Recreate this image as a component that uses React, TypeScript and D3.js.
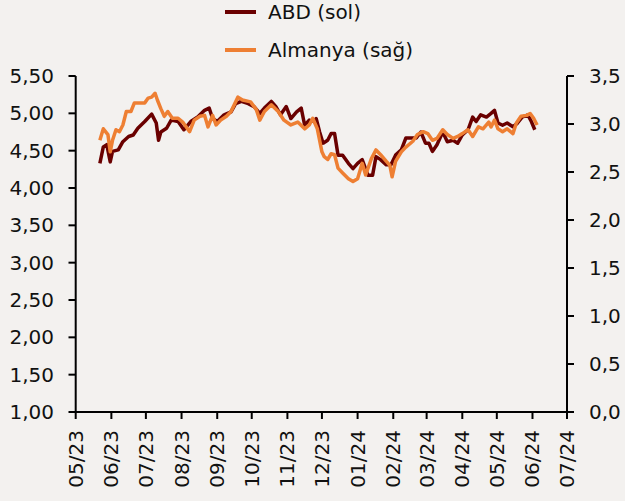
import React from "react";
import * as d3 from "d3";

// ABD 2Y (left axis)
const usDates = [
  "2023-05-22", "2023-05-25", "2023-05-28", "2023-05-31", "2023-06-02", "2023-06-07", "2023-06-11",
  "2023-06-16", "2023-06-20", "2023-06-24", "2023-06-30", "2023-07-06", "2023-07-10", "2023-07-12",
  "2023-07-14", "2023-07-19", "2023-07-23", "2023-07-29", "2023-08-03", "2023-08-09", "2023-08-15",
  "2023-08-21", "2023-08-25", "2023-08-28", "2023-09-01", "2023-09-07", "2023-09-13", "2023-09-17",
  "2023-09-22", "2023-09-28", "2023-10-03", "2023-10-08", "2023-10-12", "2023-10-18", "2023-10-22",
  "2023-10-26", "2023-10-31", "2023-11-04", "2023-11-09", "2023-11-13", "2023-11-16", "2023-11-20",
  "2023-11-24", "2023-11-26", "2023-11-29", "2023-12-02", "2023-12-06", "2023-12-09", "2023-12-12",
  "2023-12-15", "2023-12-19", "2023-12-24", "2023-12-28", "2024-01-01", "2024-01-05", "2024-01-10",
  "2024-01-14", "2024-01-17", "2024-01-21", "2024-01-26", "2024-01-30", "2024-02-03", "2024-02-08",
  "2024-02-12", "2024-02-16", "2024-02-21", "2024-02-25", "2024-02-29", "2024-03-03", "2024-03-06",
  "2024-03-10", "2024-03-15", "2024-03-19", "2024-03-24", "2024-03-28", "2024-04-01", "2024-04-06",
  "2024-04-10", "2024-04-13", "2024-04-17", "2024-04-22", "2024-04-26", "2024-04-29", "2024-05-02",
  "2024-05-06", "2024-05-10", "2024-05-15", "2024-05-19", "2024-05-23", "2024-05-28", "2024-05-31",
  "2024-06-03",
];
const usYields = [
  4.33, 4.55, 4.58, 4.35, 4.49, 4.51, 4.62, 4.69, 4.71, 4.8, 4.89, 4.99, 4.87, 4.64, 4.75, 4.8,
  4.91, 4.89, 4.78, 4.89, 4.95, 5.04, 5.07, 4.93, 4.89, 4.98, 5.02, 5.13, 5.16, 5.13, 5.09, 5.0,
  5.07, 5.16, 5.09, 4.98, 5.09, 4.93, 5.02, 5.07, 4.84, 4.91, 4.89, 4.93, 4.75, 4.6, 4.64, 4.73,
  4.73, 4.44, 4.44, 4.33, 4.26, 4.33, 4.38, 4.17, 4.17, 4.42, 4.38, 4.31, 4.31, 4.44, 4.51, 4.67,
  4.67, 4.67, 4.75, 4.6, 4.6, 4.49, 4.58, 4.75, 4.62, 4.64, 4.6, 4.71, 4.78, 4.95, 4.89, 4.98,
  4.95, 5.0, 5.04, 4.87, 4.84, 4.87, 4.82, 4.87, 4.95, 4.98, 4.89, 4.78,
];

// Almanya 2Y (right axis)
const deDates = [
  "2023-05-22", "2023-05-25", "2023-05-29", "2023-05-31", "2023-06-02", "2023-06-05", "2023-06-08",
  "2023-06-11", "2023-06-14", "2023-06-18", "2023-06-21", "2023-06-25", "2023-06-30", "2023-07-03",
  "2023-07-06", "2023-07-09", "2023-07-11", "2023-07-14", "2023-07-17", "2023-07-20", "2023-07-24",
  "2023-07-29", "2023-08-02", "2023-08-08", "2023-08-12", "2023-08-17", "2023-08-21", "2023-08-24",
  "2023-08-28", "2023-08-31", "2023-09-04", "2023-09-09", "2023-09-13", "2023-09-19", "2023-09-23",
  "2023-09-30", "2023-10-05", "2023-10-08", "2023-10-12", "2023-10-18", "2023-10-24", "2023-10-29",
  "2023-11-04", "2023-11-10", "2023-11-16", "2023-11-20", "2023-11-23", "2023-11-27", "2023-11-28",
  "2023-12-01", "2023-12-03", "2023-12-06", "2023-12-09", "2023-12-12", "2023-12-15", "2023-12-19",
  "2023-12-24", "2023-12-28", "2024-01-01", "2024-01-05", "2024-01-08", "2024-01-13", "2024-01-17",
  "2024-01-21", "2024-01-26", "2024-01-29", "2024-01-31", "2024-02-03", "2024-02-08", "2024-02-12",
  "2024-02-18", "2024-02-22", "2024-02-27", "2024-03-02", "2024-03-06", "2024-03-10", "2024-03-15",
  "2024-03-19", "2024-03-24", "2024-03-28", "2024-04-01", "2024-04-06", "2024-04-10", "2024-04-15",
  "2024-04-19", "2024-04-24", "2024-04-26", "2024-04-29", "2024-05-02", "2024-05-06", "2024-05-10",
  "2024-05-15", "2024-05-18", "2024-05-22", "2024-05-27", "2024-05-30", "2024-06-02", "2024-06-05",
];
const deYields = [
  2.83, 2.95, 2.89, 2.71, 2.83, 2.94, 2.92, 2.99, 3.13, 3.13, 3.22, 3.22, 3.22, 3.27, 3.28, 3.32,
  3.25, 3.16, 3.08, 3.13, 3.06, 3.06, 3.02, 2.92, 3.04, 3.08, 3.09, 2.97, 3.09, 2.99, 3.04, 3.08,
  3.13, 3.28, 3.25, 3.23, 3.15, 3.04, 3.13, 3.2, 3.13, 3.04, 2.99, 3.02, 2.95, 2.99, 3.06, 2.95,
  2.89, 2.71, 2.66, 2.63, 2.69, 2.68, 2.54, 2.49, 2.43, 2.4, 2.43, 2.59, 2.47, 2.64, 2.73, 2.68,
  2.61, 2.57, 2.45, 2.61, 2.71, 2.76, 2.82, 2.89, 2.92, 2.9, 2.83, 2.85, 2.94, 2.89, 2.85, 2.87,
  2.9, 2.94, 2.87, 2.97, 2.95, 3.02, 2.97, 3.04, 2.95, 2.92, 2.95, 2.9, 3.01, 3.08, 3.09, 3.11,
  3.06, 2.99,
];

const leftTicks = [1, 1.5, 2, 2.5, 3, 3.5, 4, 4.5, 5, 5.5];
const rightTicks = [0, 0.5, 1, 1.5, 2, 2.5, 3, 3.5];
const seriesNames = ["ABD (sol)", "Almanya (sağ)"];
const seriesColors = ["#6a0000", "#ee7f33"];

const W = 625;
const H = 501;
const FONT = "'DejaVu Sans', Verdana, sans-serif";

const parse = d3.timeParse("%Y-%m-%d");

const App = () => {
  const x = d3
    .scaleTime()
    .domain([new Date(2023, 4, 1), new Date(2024, 6, 1)])
    .range([75.7, 567]);
  const yLeft = d3.scaleLinear().domain([1, 5.5]).range([412, 76]);
  const yRight = d3.scaleLinear().domain([0, 3.5]).range([412, 76]);

  const us = usDates.map((d, i) => ({ date: parse(d) as Date, v: usYields[i] }));
  const de = deDates.map((d, i) => ({ date: parse(d) as Date, v: deYields[i] }));

  const usLine = d3
    .line<{ date: Date; v: number }>()
    .x((d) => x(d.date))
    .y((d) => yLeft(d.v));
  const deLine = d3
    .line<{ date: Date; v: number }>()
    .x((d) => x(d.date))
    .y((d) => yRight(d.v));

  const months = d3.timeMonth.range(new Date(2023, 4, 1), new Date(2024, 6, 2));
  const fmtMonth = d3.timeFormat("%m/%y");
  const fmt2 = (v: number) => d3.format(".2f")(v).replace(".", ",");
  const fmt1 = (v: number) => d3.format(".1f")(v).replace(".", ",");

  return (
    <svg
      width={W}
      height={H}
      style={{ position: "absolute", left: 0, top: 0, background: "#f3f1ef" }}
      fontFamily={FONT}
    >
      <rect width={W} height={H} fill="#f3f1ef" />

      {/* legend */}
      {seriesNames.map((name, i) => (
        <g key={name} transform={`translate(0, ${12 + i * 38})`}>
          <line x1={225} x2={256} y1={0} y2={0} stroke={seriesColors[i]} strokeWidth={4} />
          <text x={268} y={0} dy="0.35em" fontSize={20} fill="#111">
            {name}
          </text>
        </g>
      ))}

      {/* lines */}
      <path d={usLine(us) || ""} fill="none" stroke={seriesColors[0]} strokeWidth={3.5} strokeLinejoin="round" />
      <path d={deLine(de) || ""} fill="none" stroke={seriesColors[1]} strokeWidth={3.5} strokeLinejoin="round" />

      {/* left axis */}
      <line x1={75.7} x2={75.7} y1={yLeft(5.5)} y2={412} stroke="#000" strokeWidth={2} />
      {leftTicks.map((t) => (
        <g key={t} transform={`translate(0, ${yLeft(t)})`}>
          <line x1={68.5} x2={75.7} stroke="#000" strokeWidth={2} />
          <text x={54} dy="0.35em" textAnchor="end" fontSize={20} fill="#111">
            {fmt2(t)}
          </text>
        </g>
      ))}

      {/* right axis */}
      <line x1={567} x2={567} y1={yRight(3.5)} y2={412} stroke="#000" strokeWidth={2} />
      {rightTicks.map((t) => (
        <g key={t} transform={`translate(0, ${yRight(t)})`}>
          <line x1={567} x2={574} stroke="#000" strokeWidth={2} />
          <text x={589} dy="0.35em" textAnchor="start" fontSize={20} fill="#111">
            {fmt1(t)}
          </text>
        </g>
      ))}

      {/* bottom axis */}
      <line x1={74.7} x2={568} y1={412} y2={412} stroke="#000" strokeWidth={2} />
      {months.map((m) => (
        <g key={+m} transform={`translate(${x(m)}, 412)`}>
          <line y1={0} y2={7} stroke="#000" strokeWidth={2} />
          <text
            transform="translate(0, 18) rotate(-90)"
            dy="0.35em"
            textAnchor="end"
            fontSize={20}
            fill="#111"
          >
            {fmtMonth(m)}
          </text>
        </g>
      ))}
    </svg>
  );
};

export default App;
